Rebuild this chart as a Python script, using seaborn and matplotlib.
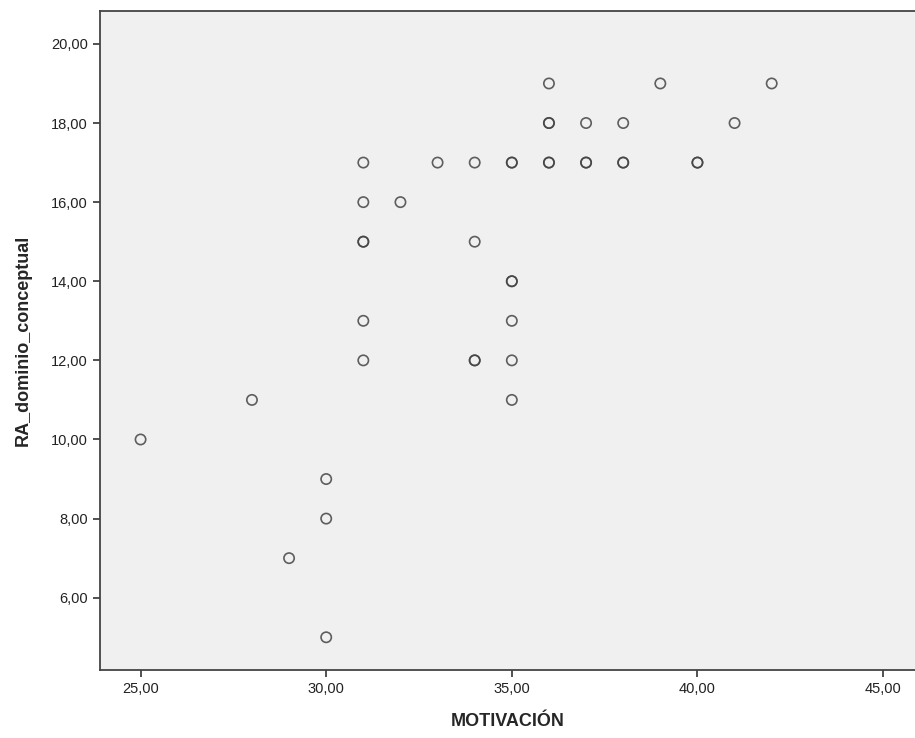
import matplotlib
matplotlib.use("Agg")
import matplotlib.pyplot as plt
import seaborn as sns
import pandas as pd
from matplotlib.ticker import FuncFormatter

# MOTIVACIÓN vs RA_dominio_conceptual (duplicated points appear darker)
motivacion = [25, 28, 29, 30, 30, 30,
              31, 31, 31, 31, 31, 31,
              32, 33, 34, 34, 34, 34,
              35, 35, 35, 35, 35, 35, 35,
              36, 36, 36, 36, 36,
              37, 37, 37, 38, 38, 38,
              39, 40, 40, 41, 42]
dominio = [10, 11, 7, 9, 8, 5,
           17, 16, 15, 15, 13, 12,
           16, 17, 17, 15, 12, 12,
           17, 17, 14, 14, 13, 12, 11,
           19, 18, 18, 17, 17,
           18, 17, 17, 18, 17, 17,
           19, 17, 17, 18, 19]

x_ticks = [25, 30, 35, 40, 45]
y_ticks = [6, 8, 10, 12, 14, 16, 18, 20]

df = pd.DataFrame({"MOTIVACIÓN": motivacion, "RA_dominio_conceptual": dominio})

sns.set_style("white")
plt.rcParams["font.family"] = ["Liberation Sans", "DejaVu Sans"]

fig = plt.figure(figsize=(9.15, 7.38), dpi=100)
ax = fig.add_axes([0.109, 0.092, 0.891, 0.893])
ax.set_facecolor("#f0f0f0")

sns.scatterplot(data=df, x="MOTIVACIÓN", y="RA_dominio_conceptual", ax=ax,
                marker="o", s=55, facecolors="none", edgecolor="#444444",
                linewidth=1.2, alpha=0.85)

ax.set_xlim(23.9, 45.86)
ax.set_ylim(4.17, 20.83)
ax.set_xticks(x_ticks)
ax.set_yticks(y_ticks)
fmt = FuncFormatter(lambda v, p: f"{v:.2f}".replace(".", ","))
ax.xaxis.set_major_formatter(fmt)
ax.yaxis.set_major_formatter(fmt)
ax.tick_params(axis="both", direction="out", length=5, width=1.2,
               colors="#333333", labelsize=10.5, labelcolor="#222222")
ax.tick_params(left=True, bottom=True)

for side in ["left", "bottom", "top"]:
    ax.spines[side].set_color("#444444")
    ax.spines[side].set_linewidth(1.3)
ax.spines["right"].set_visible(False)

ax.set_xlabel("MOTIVACIÓN", fontsize=13, fontweight="bold", labelpad=12)
ax.set_ylabel("RA_dominio_conceptual", fontsize=13, fontweight="bold", labelpad=14)

fig.savefig("out.png", dpi=100)
